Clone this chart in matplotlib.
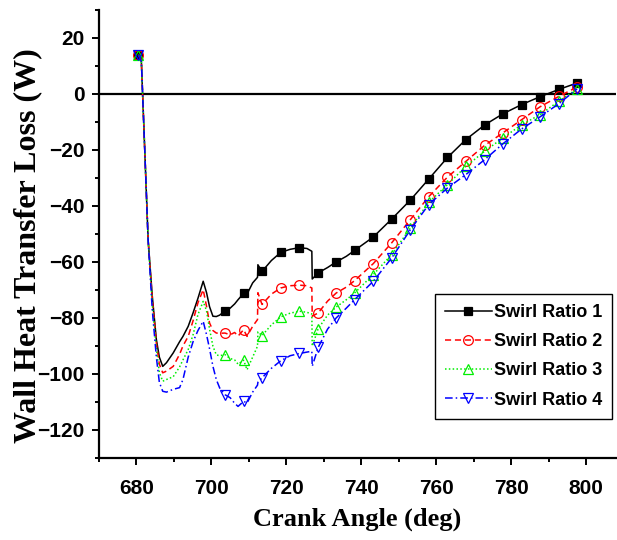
import matplotlib
matplotlib.use("Agg")
import matplotlib.pyplot as plt
from matplotlib.ticker import MultipleLocator

# crank angle (deg), shared by all four runs
crank = [680.5, 681.3, 682.2, 683.1, 684.2, 685.3, 686.1, 687.0, 688.0, 689.8,
         691.5, 692.4, 693.8, 695.1, 696.4, 697.8, 698.7, 699.5, 700.4, 701.3,
         702.2, 703.6, 705.0, 706.2, 707.1, 708.6, 709.5, 711.0, 712.3, 712.4,
         713.5, 716.0, 718.5, 721.0, 723.5, 725.5, 726.8, 726.9, 728.5, 731.0,
         733.3, 736.0, 738.2, 743.2, 748.1, 753.1, 758.0, 763.0, 767.9, 772.9,
         777.8, 782.8, 787.7, 792.7, 797.6]

swirl1 = [14.0, 11.6, -20, -52, -72, -87.7, -94, -97.3, -96, -92.5,
          -88.5, -86.6, -83, -78.2, -73, -66.9, -71, -76, -79.4, -79.5,
          -79, -77.5, -76.5, -75, -73.5, -71.2, -71.5, -67.5, -65.5, -61,
          -63.4, -59.5, -56.6, -55.5, -54.9, -55.2, -56.2, -66.1, -63.9, -62,
          -60, -58, -55.9, -51.1, -44.7, -37.9, -30.4, -22.7, -16.3, -11.1,
          -7.1, -3.8, -1.0, 1.6, 3.9]

swirl2 = [14.0, 11.6, -20, -52, -73, -89, -96.5, -99.6, -99, -97.3,
          -93, -90, -86.6, -81, -74.6, -69.9, -75.9, -81.8, -84.5, -85.4,
          -85.5, -85.4, -86, -85.2, -86.5, -84.2, -86.6, -83, -80.6, -71,
          -75.2, -71.5, -69.3, -68.5, -68.3, -68.5, -69.3, -79.4, -78.2, -74,
          -71.1, -69, -66.7, -60.6, -53.2, -44.9, -36.7, -29.7, -24.1, -18.4,
          -13.9, -9.2, -4.6, -0.9, 2.5]

swirl3 = [14.0, 11.6, -20, -52, -75, -91, -99.5, -102.6, -102, -101,
          -97.5, -95, -91.3, -86, -78.8, -74.1, -77.5, -84, -90.1, -93.2,
          -93.5, -93.1, -94.5, -95, -96.5, -95.1, -98.5, -94, -90.1, -85,
          -86.3, -82.5, -79.6, -78.3, -77.6, -78.0, -78.6, -90.1, -83.8, -79,
          -76.1, -73.5, -71.1, -64.5, -57.4, -47.9, -38.7, -32.4, -25.9, -20.5,
          -15.7, -11.0, -7.4, -2.6, 1.8]

swirl4 = [14.0, 11.6, -20, -52, -77, -94, -103, -106.2, -106.5, -105.5,
          -104.9, -102, -94, -88.5, -84.5, -81.2, -86, -91, -97.3, -102,
          -105, -107.4, -108.5, -110.5, -111.6, -109.8, -110.4, -106.5, -104, -103,
          -101.4, -98, -95.3, -93.5, -92.7, -92.2, -91.9, -97.3, -90.5, -84,
          -80, -76.5, -73.5, -66.9, -58.6, -48.5, -39.5, -33.6, -28.8, -23.5,
          -17.8, -12.5, -8.2, -3.5, 1.8]

labels = ["Swirl Ratio 1", "Swirl Ratio 2", "Swirl Ratio 3", "Swirl Ratio 4"]

# points where the symbols sit
mark_idx = [0, 21, 25, 30, 32, 34, 38, 40] + list(range(42, 55))

fig = plt.figure(figsize=(6.17, 5.4), dpi=100)
ax = fig.add_axes([0.1605, 0.152, 0.838, 0.8296])

styles = [
    dict(color="black", ls="-", marker="s", mfc="black", mec="black", ms=6),
    dict(color="red", ls=(0, (4, 2.5)), marker="o", mfc="none", mec="red", ms=7),
    dict(color="#00ee00", ls=(0, (1, 1.5)), marker="^", mfc="none", mec="#00ee00", ms=7),
    dict(color="blue", ls=(0, (5, 2, 1, 2)), marker="v", mfc="none", mec="blue", ms=7),
]
for ys, lab, st in zip([swirl1, swirl2, swirl3, swirl4], labels, styles):
    ax.plot(crank, ys, lw=1.1, mew=0.9, markevery=mark_idx, label=lab, **st)

ax.axhline(0, color="black", lw=1.6, zorder=0)

ax.set_xlim(670, 808)
ax.set_ylim(-130, 30)
ax.xaxis.set_major_locator(MultipleLocator(20))
ax.xaxis.set_minor_locator(MultipleLocator(10))
ax.yaxis.set_major_locator(MultipleLocator(20))
ax.yaxis.set_minor_locator(MultipleLocator(10))

for s in ["top", "right"]:
    ax.spines[s].set_visible(False)
for s in ["left", "bottom"]:
    ax.spines[s].set_linewidth(1.6)

ax.tick_params(which="major", direction="out", length=5.3, width=1.4, pad=5)
ax.tick_params(which="minor", direction="out", length=3, width=1.4)
ax.tick_params(axis="x", pad=10)
for t in ax.get_xticklabels() + ax.get_yticklabels():
    t.set_fontfamily("Liberation Sans")
    t.set_fontweight("bold")
    t.set_fontsize(15)

ax.set_xlabel("Crank Angle (deg)", fontfamily="Liberation Serif",
              fontweight="bold", fontsize=19, labelpad=7)
ax.set_ylabel("Wall Heat Transfer Loss (W)", fontfamily="Liberation Serif",
              fontweight="bold", fontsize=23)
ax.yaxis.set_label_coords(-0.11, 0.475)

leg = ax.legend(loc="upper left", bbox_to_anchor=(0.705, 0.4556),
                bbox_transform=fig.transFigure, borderaxespad=0,
                fancybox=False, edgecolor="black", framealpha=1,
                prop={"family": "Liberation Sans", "weight": "bold", "size": 13},
                handlelength=2.6, handletextpad=0.1, labelspacing=0.68,
                borderpad=0.55)
leg.get_frame().set_linewidth(1.0)

fig.savefig("out.png", dpi=100)
